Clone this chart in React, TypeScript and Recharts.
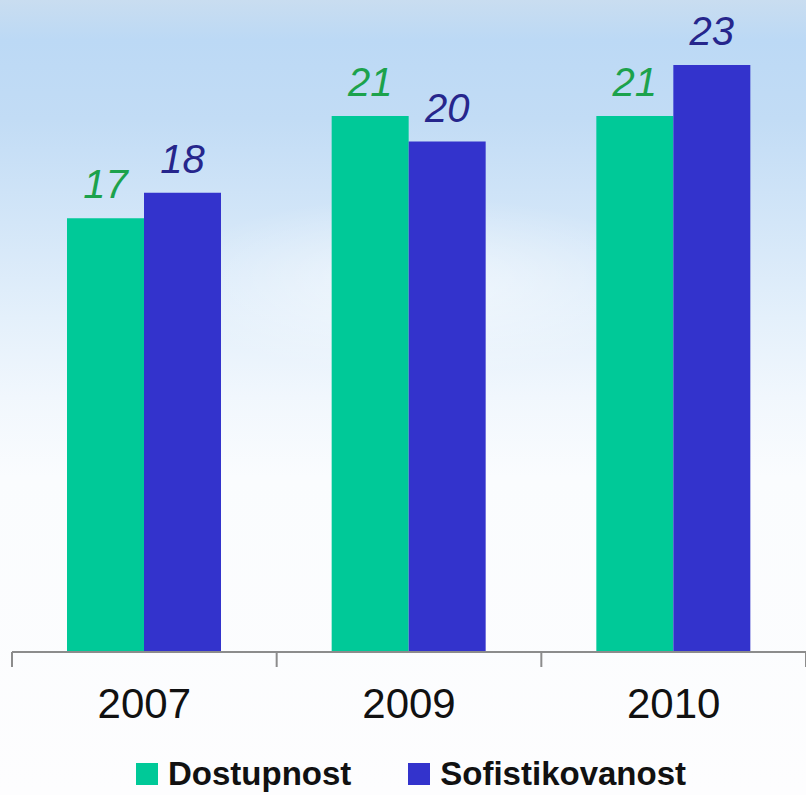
import React from "react";
import {
  BarChart,
  Bar,
  XAxis,
  YAxis,
  LabelList,
  Legend,
} from "recharts";

const years = ["2007", "2009", "2010"];
const dostupnost = [17, 21, 21];
const sofistikovanost = [18, 20, 23];

const GREEN = "#00c998";
const BLUE = "#3333cc";
const GREEN_LABEL = "#1ca24c";
const BLUE_LABEL = "#26268c";
const AXIS = "#8c8c8c";
const FONT = "'Liberation Sans', Arial, sans-serif";

const data = years.map((year, i) => ({
  year,
  dostupnost: dostupnost[i],
  sofistikovanost: sofistikovanost[i],
}));

const legendItems = [
  { label: "Dostupnost", color: GREEN },
  { label: "Sofistikovanost", color: BLUE },
];

// year label, with tick marks on the group boundaries instead of the centre
function YearTick({ x, y, payload, index, visibleTicksCount }: any) {
  const half = payload.offset || 0;
  const last = index === (visibleTicksCount ?? years.length) - 1;
  return (
    <g>
      <line x1={x - half} x2={x - half} y1={y} y2={y + 15} stroke={AXIS} strokeWidth={2} />
      {last && (
        <line x1={x + half} x2={x + half} y1={y} y2={y + 15} stroke={AXIS} strokeWidth={2} />
      )}
      <text
        x={x}
        y={y + 36}
        dy="0.71em"
        textAnchor="middle"
        fill="#111"
        fontSize={42}
        fontFamily={FONT}
      >
        {payload.value}
      </text>
    </g>
  );
}

function CustomLegend() {
  return (
    <div
      style={{
        height: 43,
        display: "flex",
        alignItems: "center",
        justifyContent: "center",
        paddingLeft: 4,
        fontFamily: FONT,
        fontWeight: "bold",
        fontSize: 33,
        color: "#111",
      }}
    >
      {legendItems.map((item, i) => (
        <div
          key={item.label}
          style={{ display: "flex", alignItems: "center", marginLeft: i === 0 ? 0 : 57 }}
        >
          <span
            style={{
              display: "inline-block",
              width: 22,
              height: 22,
              background: item.color,
              marginRight: 10,
            }}
          />
          <span>{item.label}</span>
        </div>
      ))}
    </div>
  );
}

export default function App() {
  return (
    <div
      style={{
        position: "absolute",
        left: 0,
        top: 0,
        width: 806,
        height: 795,
        background:
          "radial-gradient(ellipse 260px 90px at 52% 36%, rgba(255,255,255,0.55), rgba(255,255,255,0) 100%), linear-gradient(to bottom, #c9ddf0 0%, #bcd9f5 5%, #c2dcf5 15%, #d3e6f8 28%, #e4f0fb 40%, #f1f7fd 50%, #fafcfe 60%, #fdfdfe 100%)",
      }}
    >
      <BarChart
        width={806}
        height={795}
        data={data}
        margin={{ top: 14, right: 0, left: 12, bottom: 0 }}
        barGap={0}
        barSize={77}
      >
        <YAxis hide domain={[0, 25]} />
        <XAxis
          dataKey="year"
          tickLine={false}
          tickSize={0}
          tickMargin={0}
          interval={0}
          axisLine={{ stroke: AXIS, strokeWidth: 2 }}
          tick={<YearTick />}
          height={100}
        />
        <Legend verticalAlign="bottom" content={<CustomLegend />} />
        <Bar dataKey="dostupnost" fill={GREEN} isAnimationActive={false}>
          <LabelList
            dataKey="dostupnost"
            position="top"
            offset={20}
            fill={GREEN_LABEL}
            fontSize={40}
            fontStyle="italic"
            fontFamily={FONT}
          />
        </Bar>
        <Bar dataKey="sofistikovanost" fill={BLUE} isAnimationActive={false}>
          <LabelList
            dataKey="sofistikovanost"
            position="top"
            offset={20}
            fill={BLUE_LABEL}
            fontSize={40}
            fontStyle="italic"
            fontFamily={FONT}
          />
        </Bar>
      </BarChart>
    </div>
  );
}
